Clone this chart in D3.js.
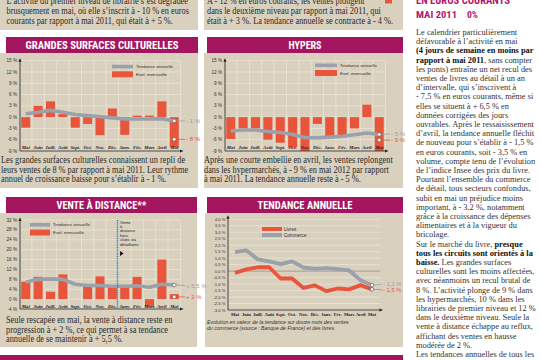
<!DOCTYPE html>
<html><head><meta charset="utf-8">
<script src="https://cdn.jsdelivr.net/npm/d3@7/dist/d3.min.js"></script>
<style>body{margin:0;background:#fff}svg{display:block}</style></head>
<body>
<svg id="c" width="540" height="360"></svg>
<script>
// ---------- DATA ----------
const months = ["Mai","Juin","Juill.","Août","Sept.","Oct.","Nov.","Déc.","Janv.","Fév.","Mars","Avril","Mai"];

const gscMensuel  = [-2.8, 3, 4.2, 0.8, -2.8, -1.8, -4.8, 2.3, -4.7, 0.4, 0.4, 4.2, -8];
const gscTendance = [0.9, 1.3, 1.8, 1.3, 0.7, 0.4, 0.1, -0.2, -0.5, -0.5, -0.5, -0.4, -1];
const gscTicks = [15, 12, 9, 6, 3, 0, -3, -6, -9];

const hypMensuel  = [-5.8, -3, -3, -6, -6.8, -8, -9, -1.8, -5.2, -5.2, -3, 3.3, -9];
const hypTendance = [-3.7, -3.4, -3.4, -3.8, -4.1, -4.6, -5.4, -5.5, -5.3, -5.1, -4.7, -4.2, -4.6];
const hypTicks = [15, 12, 9, 6, 3, 0, -3, -6, -9];

const vadMensuel  = [7, 9, 3, 10, 0, 5, 9.2, 5, 5, 9, -3, 16, 2];
const vadTendance = [6.8, 8, 8.2, 8, 6, 5.5, 5.5, 5.2, 5.2, 5.4, 4.8, 6, 5.7];
const vadTicks = [32, 28, 24, 20, 16, 12, 8, 4, 0, -4];

const tendLivres   = [-0.13, 0.13, 0.3, 0.3, -0.57, -0.57, -1.3, -1.1, -1.54, -1.34, -1.41, -1.08, -1.41];
const tendCommerce = [1.47, 1.6, 0.9, 0.75, 0.54, 0.75, 0.28, 0.18, 0.23, 0.15, 0.05, -0.7, -1.08];
const tendTicks = [4, 3.5, 3, 2.5, 2, 1.5, 1, 0.5, 0, -0.5, -1, -1.5, -2, -2.5, -3];

const headers = ["GRANDES SURFACES CULTURELLES", "HYPERS", "VENTE À DISTANCE**", "TENDANCE ANNUELLE"];
const legendBar = ["Tendance annuelle", "Evol. mensuelle"];
const legendTend = ["Livres", "Commerce"];

const topLeft = ["L’activité du premier niveau de librairie s’est dégradée",
  "brusquement en mai, où elle s’inscrit à - 10 % en euros",
  "courants par rapport à mai 2011, qui était à + 5 %."];
const topMid = ["A - 12 % en euros courants, les ventes plongent",
  "dans le deuxième niveau par rapport à mai 2011, qui",
  "était à + 3 %. La tendance annuelle se contracte à - 4 %."];
const txtGsc = ["Les grandes surfaces culturelles connaissent un repli de",
  "leurs ventes de 8 % par rapport à mai 2011. Leur rythme",
  "annuel de croissance baisse pour s’établir à - 1 %."];
const txtHyp = ["Après une courte embellie en avril, les ventes replongent",
  "dans les hypermarchés, à - 9 % en mai 2012 par rapport",
  "à mai 2011. La tendance annuelle reste à - 5 %."];
const txtVad = ["Seule rescapée en mai, la vente à distance reste en",
  "progression à + 2 %, ce qui permet à sa tendance",
  "annuelle de se maintenir à + 5,5 %."];
const txtTend = ["Evolution en valeur de la tendance sur douze mois des ventes",
  "du commerce (source : Banque de France) et des livres."];
const vadNote = ["Vente", "à", "distance", "hors", "clubs via", "détaillants"];
const rightHead = ["EN EUROS COURANTS", "MAI 2011", "0%"];
const rightText = [
  "Le calendrier particulièrement",
  "défavorable à l’activité en mai",
  [["(4 jours de semaine en moins par",1]],
  [["rapport à mai 2011",1],[", sans compter",0]],
  "les ponts) entraîne un net recul des",
  "ventes de livres au détail à un an",
  "d’intervalle, qui s’inscrivent à",
  "- 7,5 % en euros courants, même si",
  "elles se situent à + 6,5 % en",
  "données corrigées des jours",
  "ouvrables. Après le ressaisissement",
  "d’avril, la tendance annuelle fléchit",
  "de nouveau pour s’établir à - 1,5 %",
  "en euros courants, soit - 3,5 % en",
  "volume, compte tenu de l’évolution",
  "de l’indice Insee des prix du livre.",
  "Pourtant l’ensemble du commerce",
  "de détail, tous secteurs confondus,",
  "subit en mai un préjudice moins",
  "important, à - 3,2 %, notamment",
  "grâce à la croissance des dépenses",
  "alimentaires et à la vigueur du",
  "bricolage.",
  [["Sur le marché du livre, ",0],["presque",1]],
  [["tous les circuits sont orientés à la",1]],
  [["baisse.",1],[" Les grandes surfaces",0]],
  "culturelles sont les moins affectées,",
  "avec néanmoins un recul brutal de",
  "8 %. L’activité plonge de 9 % dans",
  "les hypermarchés, 10 % dans les",
  "librairies de premier niveau et 12 %",
  "dans le deuxième niveau. Seule la",
  "vente à distance échappe au reflux,",
  "affichant des ventes en hausse",
  "modérée de 2 %.",
  "Les tendances annuelles de tous les"
];

// ---------- STYLE ----------
const C = {beige:"#d9d0bd", grid:"#ebe5d9", mag:"#a3155f", mag2:"#b3186c", red:"#e8553b", gray:"#9aa1ab", text:"#2b2b2b", axis:"#222"};
const SERIF = "'Liberation Serif','DejaVu Serif',serif";
const SANS = "'Liberation Sans','Roboto',sans-serif";
const NARROW = "'Liberation Sans Narrow','Roboto Condensed','Liberation Sans',sans-serif";

const svg = d3.select("#c");

function rect(x,y,w,h,fill){ svg.append("rect").attr("x",x).attr("y",y).attr("width",w).attr("height",h).attr("fill",fill); }
function lines(g, x, y, lh, arr, o){
  arr.forEach((ln,i)=>{
    const t = g.append("text").attr("transform",`translate(${x},${y+i*lh}) scale(${o.sx||1},1)`)
      .attr("font-family",o.ff||SERIF).attr("font-size",o.fs||10).attr("fill",o.fill||C.text)
      .attr("font-style",o.italic?"italic":null).attr("style","white-space:pre");
    const segs = typeof ln==="string" ? [[ln,0]] : ln;
    segs.forEach(s=>t.append("tspan").text(s[0]).attr("font-weight",s[1]?"bold":null).attr("fill",s[1]?"#111":null));
  });
}
function header(x,y,w,label,tl){
  rect(x,y,w,16,C.mag);
  svg.append("text").attr("x",x+w/2).attr("y",y+12.2).attr("text-anchor","middle")
    .attr("font-family",NARROW).attr("font-weight","bold").attr("font-size",11.5).attr("fill","#fff")
    .attr("textLength",tl).attr("lengthAdjust","spacingAndGlyphs").text(label);
}
function arrowUp(g,x,y){ g.append("path").attr("d",`M${x-1.6},${y+3}L${x},${y-0.5}L${x+1.6},${y+3}Z`).attr("fill",C.axis); }
function arrowRight(g,x,y){ g.append("path").attr("d",`M${x-3},${y-1.6}L${x+0.5},${y}L${x-3},${y+1.6}Z`).attr("fill",C.axis); }

// ---------- BACKGROUNDS ----------
rect(0,0,198,30,C.beige);
rect(204,0,199,30,C.beige);
header(6,37,192,headers[0],153);
header(207,37,196,headers[1],33);
rect(0,53,198,135,C.beige);
rect(204,53,199,135,C.beige);
header(6,197,191,headers[2],90);
header(207,197,196,headers[3],95);
rect(0,213,197,134,C.beige);
rect(205,213,198,134,C.beige);
rect(0,355,403,5,C.mag);
rect(385,0,7,3.5,C.red);

// ---------- TEXT BLOCKS ----------
const tg = svg.append("g");
lines(tg, 6.5, 4, 10, topLeft, {fs:9.6, sx:0.865});
lines(tg, 207, 4, 10, topMid, {fs:9.6, sx:0.865});
lines(tg, 1, 163, 9.6, txtGsc, {fs:9.6, sx:0.865});
lines(tg, 204, 163, 9.6, txtHyp, {fs:9.6, sx:0.865});
lines(tg, 6, 323, 9.6, txtVad, {fs:9.6, sx:0.865});
lines(tg, 207, 323.5, 6.8, txtTend, {ff:SANS, fs:5.6, italic:true, sx:0.92, fill:"#333"});
lines(tg, 416, 35, 9.2, rightText, {fs:9.2, sx:0.91, fill:"#333"});
svg.append("text").attr("x",416).attr("y",4).attr("font-family",NARROW).attr("font-weight","bold").attr("font-size",10)
  .attr("fill",C.mag2).attr("textLength",94).attr("lengthAdjust","spacingAndGlyphs").text(rightHead[0]);
svg.append("text").attr("x",416).attr("y",17.5).attr("font-family",NARROW).attr("font-weight","bold").attr("font-size",9.5)
  .attr("fill",C.mag2).attr("textLength",41).attr("lengthAdjust","spacingAndGlyphs").text(rightHead[1]);
svg.append("text").attr("x",467).attr("y",17.5).attr("font-family",NARROW).attr("font-weight","bold").attr("font-size",9.5)
  .attr("fill",C.mag2).attr("textLength",11).attr("lengthAdjust","spacingAndGlyphs").text(rightHead[2]);

// ---------- BAR CHARTS ----------
function pct(v){ return (v<0?"-":"") + Math.abs(v) + " %"; }

function barChart(o){
  const g = svg.append("g");
  const x = d3.scaleBand().domain(d3.range(months.length)).range([o.x0,o.x1]).paddingInner(0.27).paddingOuter(0.1);
  const y = d3.scaleLinear().domain([o.ticks[o.ticks.length-1], o.ticks[0]]).range([o.yB,o.yT]);
  const step = x.step(), bw = x.bandwidth();
  const cx = i => x(i)+bw/2;
  o.ticks.forEach(t=>g.append("line").attr("x1",o.x0).attr("x2",o.x1).attr("y1",y(t)).attr("y2",y(t)).attr("stroke",C.grid).attr("stroke-width",0.8));
  d3.range(1,months.length+1).forEach(i=>{
    const xx = x(i-1)+bw+step*0.27/2;
    g.append("line").attr("x1",xx).attr("x2",xx).attr("y1",o.yT).attr("y2",o.yB).attr("stroke",C.grid).attr("stroke-width",0.8);
  });
  g.selectAll(null).data(o.mens).join("rect")
    .attr("x",(d,i)=>x(i)).attr("width",bw)
    .attr("y",d=>y(Math.max(0,d))).attr("height",d=>Math.abs(y(d)-y(0)))
    .attr("fill",C.red);
  g.append("path").datum(o.tend).attr("d",d3.line().x((d,i)=>cx(i)).y(d=>y(d)))
    .attr("fill","none").attr("stroke",C.gray).attr("stroke-width",3.6).attr("stroke-linejoin","round");
  g.append("line").attr("x1",o.x0).attr("x2",o.x0).attr("y1",o.yB).attr("y2",o.yT-1).attr("stroke",C.axis).attr("stroke-width",0.8);
  arrowUp(g,o.x0,o.yT-2);
  g.append("line").attr("x1",o.x0).attr("x2",o.x1+1).attr("y1",o.yB).attr("y2",o.yB).attr("stroke",C.axis).attr("stroke-width",0.8);
  arrowRight(g,o.x1+3,o.yB);
  o.ticks.forEach(t=>g.append("text").attr("x",o.x0-3).attr("y",y(t)+1.6).attr("text-anchor","end")
    .attr("font-family",SANS).attr("font-size",4.6).attr("fill","#333").text(pct(t)));
  months.forEach((m,i)=>g.append("text").attr("x",cx(i)).attr("y",o.yB-o.monthOff).attr("text-anchor","middle")
    .attr("font-family",SERIF).attr("font-style","italic").attr("font-weight","bold").attr("font-size",4.8).attr("fill","#222").text(m));
  const L = o.leg;
  g.append("rect").attr("x",L[0]).attr("y",L[1]).attr("width",L[2]).attr("height",3.6).attr("fill",C.gray);
  g.append("rect").attr("x",L[0]).attr("y",L[1]+6.5).attr("width",L[2]).attr("height",6).attr("fill",C.red);
  g.append("text").attr("x",L[0]+L[2]+3).attr("y",L[1]+3.4).attr("font-family",SANS).attr("font-size",4.4).attr("fill","#333").text(legendBar[0]);
  g.append("text").attr("x",L[0]+L[2]+3).attr("y",L[1]+11).attr("font-family",SANS).attr("font-size",4.4).attr("fill","#333").text(legendBar[1]);
  const n = months.length-1;
  const lx = o.x1+6;
  const ty = y(o.tend[n]), ry = y(o.redMark);
  g.append("line").attr("x1",cx(n)).attr("x2",lx-1).attr("y1",ty).attr("y2",y(o.grayLab)).attr("stroke",C.gray).attr("stroke-width",0.8);
  g.append("line").attr("x1",cx(n)).attr("x2",lx-1).attr("y1",ry).attr("y2",ry).attr("stroke",C.red).attr("stroke-width",0.8);
  g.append("circle").attr("cx",cx(n)).attr("cy",ty).attr("r",1.8).attr("fill","#fff").attr("stroke","#555").attr("stroke-width",0.6);
  g.append("circle").attr("cx",cx(n)).attr("cy",ry).attr("r",1.8).attr("fill","#fff").attr("stroke","#555").attr("stroke-width",0.6);
  g.append("text").attr("x",lx).attr("y",y(o.grayLab)+2).attr("font-family",SANS).attr("font-size",6).attr("fill",C.gray).text(o.labs[0]);
  g.append("text").attr("x",lx).attr("y",ry+2).attr("font-family",SANS).attr("font-size",6).attr("fill",C.red).text(o.labs[1]);
  return {g,x,y,step,bw};
}

barChart({x0:20, x1:180, yT:60.7, yB:151, ticks:gscTicks, mens:gscMensuel, tend:gscTendance,
  leg:[112,64.8,21], monthOff:2, redMark:-5.9, grayLab:-1, labs:["- 1 %","- 8 %"]});
barChart({x0:225, x1:385, yT:60.7, yB:151, ticks:hypTicks, mens:hypMensuel, tend:hypTendance,
  leg:[315,63.5,22], monthOff:2, redMark:-6.1, grayLab:-4.5, labs:["- 5 %","- 9 %"]});
const vad = barChart({x0:20, x1:180, yT:220, yB:309, ticks:vadTicks, mens:vadMensuel, tend:vadTendance,
  leg:[30,223,20], monthOff:1.2, redMark:0.9, grayLab:5.5, labs:["+ 5,5 %","+ 2 %"]});

{
  const xx = vad.x(8) - vad.step*0.27/2 - 1;
  vad.g.append("line").attr("x1",xx).attr("x2",xx).attr("y1",220).attr("y2",309)
    .attr("stroke","#2a7fb5").attr("stroke-width",1.6).attr("stroke-dasharray","1,0.8");
  vadNote.forEach((t,i)=>vad.g.append("text").attr("x",xx+2.5).attr("y",223.5+i*4.4)
    .attr("font-family",SANS).attr("font-size",4.1).attr("fill","#222").text(t));
  vad.g.append("path").attr("d",`M${xx+2.5},${251}L${xx+6},${253.5}L${xx+2.5},${256}Z`).attr("fill","#111");
}

// ---------- LINE CHART ----------
{
  const g = svg.append("g");
  const x0 = 228, x1 = 380, yT = 219.3, yB = 310;
  const x = d3.scalePoint().domain(d3.range(months.length)).range([235,372]);
  const y = d3.scaleLinear().domain([tendTicks[tendTicks.length-1], tendTicks[0]]).range([yB,yT]);
  tendTicks.forEach(t=>g.append("line").attr("x1",x0).attr("x2",x1).attr("y1",y(t)).attr("y2",y(t))
    .attr("stroke",t===0?"#8d8a84":C.grid).attr("stroke-width",t===0?0.7:0.8));
  const line = d3.line().x((d,i)=>x(i)).y(d=>y(d));
  g.append("path").datum(tendCommerce).attr("d",line).attr("fill","none").attr("stroke",C.gray).attr("stroke-width",3.8).attr("stroke-linejoin","round");
  g.append("path").datum(tendLivres).attr("d",line).attr("fill","none").attr("stroke",C.red).attr("stroke-width",3.8).attr("stroke-linejoin","round");
  g.append("line").attr("x1",x0).attr("x2",x0).attr("y1",yB).attr("y2",yT-2).attr("stroke",C.axis).attr("stroke-width",0.8);
  arrowUp(g,x0,yT-3.5);
  g.append("line").attr("x1",x0).attr("x2",x1).attr("y1",yB).attr("y2",yB).attr("stroke",C.axis).attr("stroke-width",0.8);
  arrowRight(g,x1+2.5,yB);
  tendTicks.forEach(t=>g.append("text").attr("x",x0-2.5).attr("y",y(t)+1.5).attr("text-anchor","end")
    .attr("font-family",SANS).attr("font-size",4.2).attr("fill","#333")
    .text((t<0?"-":"")+Math.abs(t).toFixed(1).replace(".",",")+" %"));
  months.forEach((m,i)=>g.append("text").attr("x",x(i)).attr("y",yB+6).attr("text-anchor","middle")
    .attr("font-family",SERIF).attr("font-weight","bold").attr("font-size",4.6).attr("fill","#222").text(m));
  g.append("rect").attr("x",262).attr("y",227).attr("width",20).attr("height",4).attr("fill",C.red);
  g.append("rect").attr("x",262).attr("y",233).attr("width",20).attr("height",4).attr("fill",C.gray);
  g.append("text").attr("x",284).attr("y",231).attr("font-family",SANS).attr("font-size",4.6).attr("fill","#333").text(legendTend[0]);
  g.append("text").attr("x",284).attr("y",237).attr("font-family",SANS).attr("font-size",4.6).attr("fill","#333").text(legendTend[1]);
  const n = months.length-1;
  [[tendCommerce, C.gray, -1.0, "- 1,1 %"],[tendLivres, C.red, -1.45, "- 1,5 %"]].forEach(([s,col,lv,lab])=>{
    g.append("line").attr("x1",x(n)).attr("x2",382).attr("y1",y(s[n])).attr("y2",y(lv)).attr("stroke",col).attr("stroke-width",0.7);
    g.append("circle").attr("cx",x(n)).attr("cy",y(s[n])).attr("r",1.8).attr("fill","#fff").attr("stroke","#444").attr("stroke-width",0.6);
    g.append("text").attr("x",383).attr("y",y(lv)+2).attr("font-family",SANS).attr("font-size",5.8).attr("fill",col).text(lab);
  });
}
</script>
</body></html>
